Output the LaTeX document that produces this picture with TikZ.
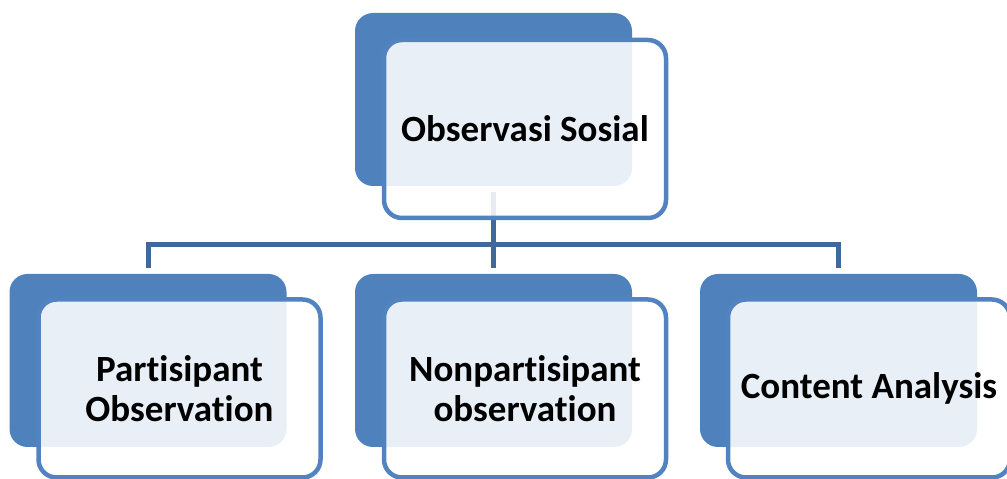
\documentclass[tikz,border=0pt]{standalone}
\usepackage{fontspec}
\setmainfont[Ligatures={NoCommon}]{Carlito}
\begin{document}
\begin{tikzpicture}[x=1pt,y=1pt,
  backbox/.style={fill=backblue, draw=none, rounded corners=18pt,
    minimum width=277pt, minimum height=173pt, inner sep=0pt},
  frontbox/.style={draw=edgeblue, line width=4.5pt, fill=white, fill opacity=0.88,
    draw opacity=1, text opacity=1, rounded corners=18pt,
    minimum width=282pt, minimum height=178pt, inner sep=0pt, align=center,
    font=\fontsize{37}{40}\selectfont\bfseries},
  conn/.style={draw=linkblue, line width=5pt}]
\definecolor{backblue}{HTML}{4F81BD}
\definecolor{edgeblue}{HTML}{5283C0}
\definecolor{linkblue}{HTML}{41689B}
\useasboundingbox (0,0) rectangle (1007,479);
\clip (0,0) rectangle (1007,479);

% back panels
\node[backbox] (topback) at (493.5,379.5) {};
\node[backbox] (leftback) at (148,118.5) {};
\node[backbox] (midback) at (493.5,118.5) {};
\node[backbox] (rightback) at (838.5,118.5) {};

% tree connectors, drawn under the front panels
\coordinate (stemtop) at ([yshift=-6pt]topback.south);
\coordinate (leftend) at ([yshift=6pt]leftback.north);
\coordinate (midend) at ([yshift=6pt]midback.north);
\coordinate (rightend) at ([yshift=6pt]rightback.north);
\coordinate (busleft) at (148,234);
\coordinate (busright) at (838.5,234);
\draw[conn] (stemtop) -- (midend);
\draw[conn] (leftend) -- (busleft) -- (busright) -- (rightend);

% front panels with labels
\node[frontbox] (top) at (525,350) {Observasi Sosial};
\node[frontbox] (left) at (179.5,90.5) {Partisipant\\Observation};
\node[frontbox] (mid) at (525,90.5) {Nonpartisipant\\observation};
\node[frontbox] (right) at (869,90.5) {Content Analysis};
\end{tikzpicture}
\end{document}
